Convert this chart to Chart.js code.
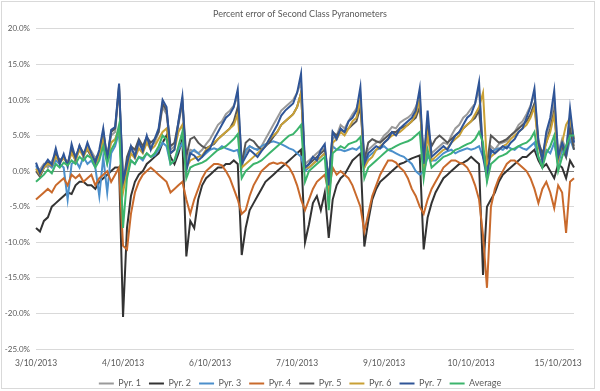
<!DOCTYPE html>
<html>
<head>
<meta charset="utf-8">
<script src="https://cdn.jsdelivr.net/npm/chart.js@4"></script>
<style>
  html, body { margin: 0; padding: 0; background: #fff; }
  #wrap { width: 600px; height: 391px; }
</style>
</head>
<body>
<div id="wrap"><canvas id="grafica"></canvas></div>
<script>
// fechas que se muestran en el eje x (una cada 22 lecturas)
const tickDates = ['3/10/2013', '4/10/2013', '6/10/2013', '7/10/2013', '9/10/2013', '10/10/2013', '15/10/2013'];
const labelEvery = 22;

const seriesNames = ['Pyr. 1', 'Pyr. 2', 'Pyr. 3', 'Pyr. 4', 'Pyr. 5', 'Pyr. 6', 'Pyr. 7', 'Average'];
const seriesColors = ['#9a9a9a', '#333333', '#4b8fcb', '#c96a2c', '#565656', '#c9a035', '#2f5597', '#3cb46c'];

const yTicks = [20, 15, 10, 5, 0, -5, -10, -15, -20, -25];

// porcentaje de error por lectura
const pyr1 = [0.5, 0.2, 1.0, 0.5, 1.4, 2.5, 1.5, 2.0, 1.2, 3.0, 2.2, 3.2, 2.5, 3.5, 2.8, 1.8, 2.6, 5.0, 2.0, 5.0, 5.5, 11.5,
  -1.0,
  0.5, 3.0, 2.5, 3.8, 3.0, 4.5, 3.5, 4.0, 5.5, 9.0, 8.0, 3.0, 3.5, 6.5, 9.5,
  1.0,
  3.0, 2.8, 2.5, 3.0, 3.8, 4.5, 5.5, 6.5, 7.0, 8.0, 8.5, 9.2, 10.5,
  1.5,
  2.5, 3.5, 3.2, 3.0, 3.5, 4.5, 5.5, 6.5, 7.5, 8.5, 9.0, 9.5, 10.0, 11.0, 12.5,
  1.0,
  1.5, 2.0, 2.5, 3.0, 3.2, -1.0, 4.5, 5.0, 6.5, 6.0, 7.0, 8.0, 8.8, 10.5,
  1.5,
  3.0, 3.5, 4.0, 4.2, 5.0, 5.5, 6.2, 6.0, 6.8, 7.2, 7.5, 8.0, 9.0, 10.5, 1.5, 7.0, 2.5,
  3.0, 3.5, 4.0, 3.8, 5.0, 6.0, 6.5, 7.5, 8.0, 8.8, 9.5, 11.5, 2.5, 0.0,
  3.5, 3.0, 3.8, 4.0, 4.2, 5.0, 5.5, 6.5, 7.0, 8.0, 9.2, 10.8, 4.5, 2.0, 5.0, 7.0, 10.0, 2.5, 4.5, 3.0, 7.5, 3.5];

const pyr2 = [-8.0, -8.5, -7.0, -6.5, -5.0, -4.5, -4.0, -3.5, -3.0, -3.2, -2.0, -1.5, -1.5, -2.0, -2.0, -2.5, -1.5, -1.0, -0.5, 0.0, 0.5, 0.5,
  -20.5,
  -8.0, -3.5, -1.5, -0.5, 0.0, 1.0, 1.5, 2.0, 2.5, 4.0, 5.0, 2.0, 1.0, 2.5, 4.5,
  -12.0,
  -7.0, -8.0, -4.0, -2.0, -1.0, -0.5, 0.0, 0.5, 0.5, 1.0, 1.0, 1.5, 1.0,
  -11.8,
  -8.0, -5.5, -4.5, -3.5, -2.5, -1.5, -1.0, -0.5, 0.0, 0.5, 1.0, 1.5, 2.0, 2.5, 3.0,
  -10.0,
  -7.5, -4.5, -3.5, -5.5, -3.0, -9.4, -4.0, -2.0, -1.0, -0.5, 0.5, 1.5, 2.0, 2.5,
  -10.6,
  -7.0, -4.0, -2.5, -1.5, -1.0, -0.5, 0.0, 0.5, 1.0, 1.2, 1.5, 1.8, 2.0, 2.2, -11.0, -6.5, -4.5,
  -3.0, -2.0, -1.0, -0.5, 0.0, 0.5, 1.0, 1.2, 1.5, 2.0, 1.5, 1.0, -14.6, -5.0,
  -4.0, -3.0, -1.5, -0.5, 0.0, 0.5, 1.0, 1.5, 2.0, 2.0, 2.5, 3.0, 1.5, 0.5, 1.0, 0.0, -1.0, 1.0, 0.5, -1.0, 1.5, 0.5];

const pyr3 = [0.8, -0.5, 0.5, 1.0, 0.5, 1.5, 1.0, 0.5, -4.0, 1.0, 1.5, 0.5, 2.0, 1.0, 1.5, 0.5, -3.5, 2.0, -3.0, 2.5, 3.5, 5.5,
  -2.0,
  0.0, 1.5, 1.0, 2.0, 1.5, 2.5, 2.0, 2.2, 3.0, 4.0, 3.5, 1.0, 1.5, 3.0, 4.0,
  0.5,
  2.5, 3.0, 2.5, 2.0, 2.5, 3.0, 3.2, 3.0, 3.5, 3.2, 3.0, 2.8, 3.0,
  0.5,
  3.0, 3.5, 3.2, 3.0, 3.5, 3.8, 4.0, 4.2, 4.0, 3.8, 3.5, 3.2, 3.0, 2.5, 2.0,
  0.0,
  0.5, 1.0, 1.5, 2.0, 2.5, -1.0, 3.5, 3.0, 3.0, 2.8, 3.0, 3.2, 3.0, 3.5,
  0.5,
  2.0, 2.5, 3.0, 3.2, 3.5, 3.0, 2.8, 2.5, 2.2, 2.0, 1.5, 1.0, 0.0, -0.5, 0.0, 2.0, 1.5,
  1.5, 2.0, 2.5, 2.8, 3.0, 2.5, 2.8, 3.0, 3.2, 3.0, 3.2, 3.5, 2.0, 0.5,
  2.5, 3.0, 3.2, 3.0, 3.5, 3.2, 3.0, 3.5, 3.2, 3.0, 3.5, 4.0, 2.0, 1.0, 3.0, 2.5, 4.0, 1.0, 3.0, 2.0, 4.5, 3.0];

const pyr4 = [-4.0, -3.5, -3.0, -2.5, -3.0, -2.0, -1.5, -1.0, -2.0, -0.5, -1.0, -0.5, -1.5, -1.0, -0.5, -2.0, -1.0, -0.5, 0.0, -1.5, -0.5, 0.5,
  -10.5,
  -11.0, -6.0, -3.0, -1.5, -0.5, 0.0, 0.5, 0.0, -0.5, -1.0, -1.5, -3.0, -2.5, -2.0, -1.5,
  -4.0,
  -6.0, -4.0, -2.5, -1.0, 0.0, 0.5, 1.0, 1.0, 0.8, 0.0, -1.0, -2.5, -4.0,
  -6.0,
  -5.5, -3.5, -2.0, -1.0, 0.0, 0.5, 1.0, 1.2, 1.0, 1.2, 1.0, 0.5, -0.5, -2.0, -4.0,
  -5.5,
  -4.0, -2.5, -1.5, -1.0, -0.5, -3.0, 0.5, -0.5, 0.0, -0.5, -1.0, -2.0, -3.5, -5.0,
  -8.5,
  -6.0, -3.5, -2.0, -0.5, 0.5, 1.5, 1.5, 1.2, 0.5, 0.0, -1.0, -2.5, -3.5, -5.0, -6.0, -4.0, -2.5,
  -1.5, -0.5, 0.5, 1.0, 1.5, 1.5, 1.2, 1.0, 0.5, -0.5, -2.0, -4.0, -9.0, -16.4,
  -5.0, -2.5, -1.0, 0.0, 1.0, 1.5, 1.5, 1.0, 0.5, 0.0, -1.0, -2.5, -4.5, -2.5, -1.5, -3.0, -5.2, -2.0, -3.0, -8.7, -1.5, -1.0];

const pyr5 = [0.0, -0.8, 0.5, 1.2, 0.8, 2.5, 1.5, 2.0, 1.0, 3.0, 1.5, 3.5, 2.5, 3.0, 2.0, 1.5, 2.5, 5.5, 2.0, 5.5, 6.0, 12.0,
  -2.0,
  2.0, 3.5, 3.0, 4.5, 3.5, 4.8, 4.0, 4.5, 5.5, 9.5, 8.5, 3.5, 4.0, 6.8, 10.0,
  2.0,
  4.5, 4.8, 4.0, 3.5, 3.2, 3.5, 3.8, 4.5, 5.0, 5.5, 6.0, 7.0, 9.0,
  1.0,
  4.0, 4.5, 4.2, 3.5, 3.0, 3.5, 4.0, 4.8, 5.5, 6.5, 7.0, 7.5, 8.0, 9.0, 11.0,
  0.5,
  1.0, 1.5, 2.0, 2.5, 3.0, -1.5, 5.5, 5.0, 5.8, 5.5, 6.0, 6.5, 7.0, 9.0,
  1.5,
  4.0, 4.5, 4.2, 4.0, 4.5, 5.0, 5.5, 5.5, 6.0, 6.2, 6.5, 7.0, 7.5, 9.0, 2.0, 6.0, 3.5,
  4.5, 5.0, 4.5, 4.0, 4.5, 5.0, 5.5, 6.0, 6.5, 7.0, 7.5, 8.5, 3.0, 1.0,
  5.0, 4.5, 4.0, 4.2, 4.5, 5.0, 5.5, 6.0, 6.5, 7.0, 8.0, 9.5, 4.0, 2.5, 4.0, 6.0, 8.5, 2.0, 3.5, 2.0, 6.0, 3.0];

const pyr6 = [0.3, -0.5, 0.5, 1.0, 0.8, 2.0, 1.2, 1.8, 1.0, 2.5, 1.5, 3.0, 2.0, 3.2, 2.2, 1.0, 2.0, 4.5, 1.5, 4.0, 4.5, 6.0,
  -3.0,
  0.0, 2.5, 1.8, 3.2, 2.5, 4.0, 3.0, 3.5, 4.5, 5.5, 6.0, 2.5, 3.0, 5.5, 6.5,
  0.5,
  1.5, 1.8, 2.0, 2.2, 3.0, 3.5, 4.0, 4.5, 5.0, 5.5, 6.0, 6.5, 8.0,
  0.5,
  1.0, 1.5, 2.0, 2.5, 3.0, 3.5, 4.5, 5.0, 5.5, 6.5, 7.0, 7.5, 8.0, 9.0, 11.0,
  0.5,
  0.5, 1.0, 1.5, 2.0, 2.5, -2.0, 4.0, 4.5, 5.5, 5.0, 6.0, 7.0, 7.5, 10.0,
  0.5,
  1.5, 2.0, 3.0, 3.5, 4.0, 4.5, 5.0, 5.2, 5.5, 6.0, 6.5, 7.0, 8.0, 10.0, 0.0, 5.0, 1.5,
  2.0, 2.5, 3.0, 3.2, 4.0, 4.5, 5.0, 6.0, 6.5, 7.0, 8.0, 9.0, 11.0, 1.0,
  2.0, 2.5, 3.0, 3.5, 3.8, 4.5, 5.0, 5.5, 6.0, 6.5, 7.5, 9.0, 3.5, 1.5, 4.0, 5.5, 8.0, 1.5, 4.0, 6.5, 7.5, 4.5];

const pyr7 = [1.2, -0.3, 0.8, 1.6, 0.9, 3.2, 1.0, 2.4, 0.6, 3.8, 1.8, 3.6, 2.2, 4.0, 2.5, 1.2, 3.0, 6.0, 1.5, 5.8, 6.2, 12.3,
  -1.5,
  1.0, 3.5, 2.0, 4.2, 2.8, 5.0, 3.0, 4.5, 6.0, 10.0, 9.0, 2.5, 3.0, 7.0, 10.5,
  0.0,
  2.5, 2.2, 1.5, 2.0, 2.8, 3.2, 4.5, 5.5, 6.5, 7.5, 8.0, 9.0, 11.5,
  1.0,
  2.0, 3.0, 2.5, 2.0, 2.8, 3.5, 4.5, 5.5, 6.5, 7.8, 8.5, 9.0, 9.5, 11.0, 13.7,
  0.5,
  1.0, 2.0, 1.5, 3.0, 3.8, -2.0, 5.5, 4.5, 6.0, 5.5, 7.0, 7.5, 8.5, 11.8,
  1.0,
  2.5, 3.0, 3.5, 3.2, 4.0, 4.5, 5.5, 5.0, 6.0, 6.5, 7.0, 7.5, 8.5, 11.6, 1.0, 8.5, 2.0,
  2.5, 3.0, 3.5, 3.0, 4.0, 5.0, 5.5, 6.5, 7.5, 8.0, 9.5, 12.5, 2.0, -1.0,
  3.0, 2.5, 3.0, 3.5, 3.2, 4.0, 4.5, 5.5, 6.0, 7.5, 9.0, 11.6, 4.0, 1.5, 5.5, 7.5, 11.3, 2.0, 4.0, 2.5, 8.8, 4.0];

const average = [-1.5, -1.0, -0.5, 0.2, -0.3, 1.0, 0.5, 1.2, 0.8, 1.5, 1.0, 2.0, 1.5, 2.2, 1.8, 0.5, 1.5, 3.5, 1.0, 3.0, 4.0, 6.5,
  -8.0,
  -1.0, 1.5, 1.0, 2.0, 1.8, 2.5, 2.0, 2.5, 3.5, 5.0, 4.5, 1.0, 1.5, 3.5, 5.5,
  -1.0,
  0.5, 0.8, 1.0, 1.2, 1.5, 2.0, 2.5, 3.0, 3.2, 3.5, 4.0, 4.5, 5.2,
  -1.0,
  0.0, 0.5, 1.0, 1.2, 1.5, 2.0, 2.5, 3.0, 3.5, 4.0, 4.5, 5.0, 5.2, 5.8, 6.5,
  -1.5,
  0.0, 0.5, 1.0, 1.5, 2.0, -5.5, 2.5, 3.0, 3.5, 3.2, 3.8, 4.0, 4.2, 4.8,
  -1.0,
  0.5, 1.0, 1.5, 2.0, 2.5, 3.0, 3.2, 3.5, 3.8, 4.0, 4.2, 4.5, 5.0, 5.5, -1.0, 3.0, 0.5,
  1.0, 1.5, 2.0, 2.2, 2.5, 3.0, 3.2, 3.5, 3.8, 4.0, 4.5, 5.5, 4.0, -1.5,
  1.0, 1.5, 2.0, 2.2, 2.5, 3.0, 3.2, 3.5, 3.8, 4.0, 4.5, 5.5, 2.0, 0.5, 2.5, 3.5, 5.0, 0.0, 2.0, 3.5, 5.0, 5.0];

const allSeries = [pyr1, pyr2, pyr3, pyr4, pyr5, pyr6, pyr7, average];
const labels = pyr1.map((_, i) => i);

const textColor = '#595959';
const fontFamily = 'Lato, "Open Sans", sans-serif';

// marco gris alrededor del gráfico, como en Excel
const marco = {
  id: 'marco',
  beforeDraw(chart) {
    const c = chart.ctx;
    c.save();
    c.fillStyle = '#fff';
    c.fillRect(0, 0, chart.width, chart.height);
    c.strokeStyle = '#d9d9d9';
    c.lineWidth = 1;
    c.strokeRect(1.5, 1.5, 593, 387);
    c.restore();
  }
};

new Chart(document.getElementById('grafica'), {
  type: 'line',
  data: {
    labels,
    datasets: allSeries.map((d, i) => ({
      label: seriesNames[i],
      data: d,
      borderColor: seriesColors[i],
      backgroundColor: seriesColors[i],
      borderWidth: 2,
      pointRadius: 0,
      tension: 0,
      order: allSeries.length - i
    }))
  },
  options: {
    responsive: true,
    maintainAspectRatio: false,
    animation: false,
    layout: { padding: { left: 0, right: 0, top: 0, bottom: 0 } },
    plugins: {
      title: {
        display: true,
        text: 'Percent error of Second Class Pyranometers',
        color: textColor,
        font: { family: fontFamily, size: 9, weight: 'normal' },
        padding: { top: 9, bottom: 9 }
      },
      legend: {
        position: 'bottom',
        maxHeight: 20,
        labels: {
          color: textColor,
          font: { family: fontFamily, size: 9 },
          usePointStyle: true,
          pointStyle: 'line',
          pointStyleWidth: 15,
          padding: 8,
          sort: (a, b) => a.datasetIndex - b.datasetIndex
        }
      },
      tooltip: { enabled: false }
    },
    scales: {
      x: {
        grid: { display: false, drawTicks: false },
        border: { display: false },
        ticks: {
          autoSkip: false,
          maxRotation: 0,
          padding: 9,
          color: textColor,
          font: { family: fontFamily, size: 8.5 },
          callback: (v, i) => (i % labelEvery === 0 ? tickDates[i / labelEvery] : null)
        },
        afterFit: s => { s.height = 22; }
      },
      y: {
        min: yTicks[yTicks.length - 1],
        max: yTicks[0],
        afterBuildTicks: s => { s.ticks = yTicks.map(v => ({ value: v })); },
        grid: {
          drawTicks: false,
          color: ctx => (ctx.tick && ctx.tick.value === 0 ? '#7f7f7f' : '#d9d9d9')
        },
        border: { display: false },
        ticks: {
          padding: 6,
          color: textColor,
          font: { family: fontFamily, size: 8 },
          callback: v => v.toFixed(1) + '%'
        },
        afterFit: s => { s.width = 36; }
      },
      // eje vacío a la derecha, solo para dejar el margen
      margen: {
        position: 'right',
        min: -25,
        max: 20,
        grid: { display: false, drawTicks: false },
        border: { display: false },
        ticks: { display: false },
        afterFit: s => { s.width = 26; }
      }
    }
  },
  plugins: [marco]
});
</script>
</body>
</html>
